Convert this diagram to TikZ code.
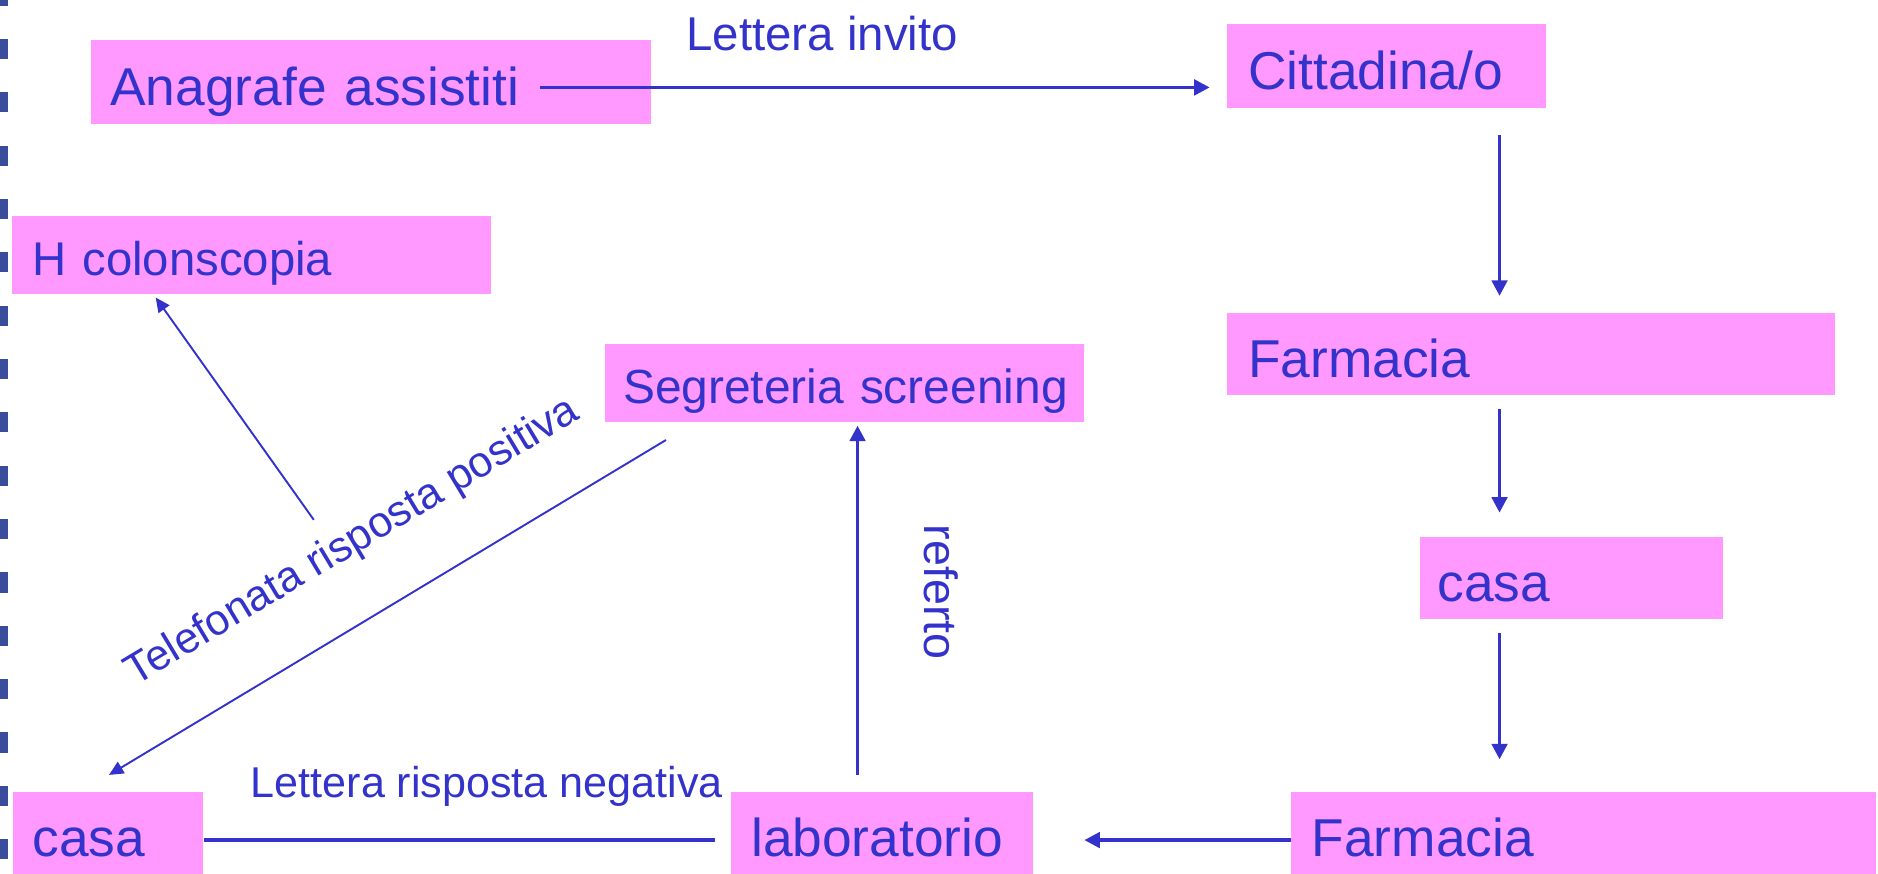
\documentclass[tikz,border=0pt]{standalone}
\usepackage{fontspec}
\setmainfont{Liberation Sans}
\usetikzlibrary{arrows.meta,calc}
\definecolor{boxpink}{HTML}{FF99FF}
\definecolor{txtblue}{HTML}{3333CC}
\definecolor{sqblue}{HTML}{3A4C9C}
\newcommand{\bigf}{\fontsize{44.5pt}{50pt}\selectfont}
\newcommand{\midf}{\fontsize{40pt}{46pt}\selectfont}
\newcommand{\labf}{\fontsize{38pt}{44pt}\selectfont}
\begin{document}
\begin{tikzpicture}[x=1pt,y=-1pt,
  box/.style={fill=boxpink, anchor=north west, inner ysep=0pt, align=left,
    text=txtblue, text depth=0pt},
  bigbox/.style={box, font=\bigf, text height=39.2pt},
  midbox/.style={box, font=\midf, text height=35.2pt},
  lab/.style={text=txtblue, font=\labf, inner sep=0pt},
  arr/.style={draw=txtblue, line width=2.8pt, -{Triangle[length=13pt,width=13pt]}},
  plain/.style={draw=txtblue, line width=2.8pt},
  thinarr/.style={draw=txtblue, line width=1.6pt, -{Triangle[length=12pt,width=11pt]}}
]
\useasboundingbox (0,0) rectangle (1568,729.7);
\fill[white] (0,0) rectangle (1568,729.7);
% left-edge markers
\foreach \k in {-1,...,15}{
  \fill[sqblue] (-4,{40.9+44.54*\k-8.4}) rectangle (6.7,{40.9+44.54*\k+8.4});
}
% boxes
\node[bigbox, minimum width=467pt, minimum height=70pt, text width=435pt, inner xsep=16pt] (anag) at (76,33) {\mbox{Anagrafe assistiti}};
\node[bigbox, minimum width=267pt, minimum height=70pt, text width=231pt, inner xsep=18pt] (citt) at (1024,20) {\mbox{Cittadina/o}};
\node[midbox, minimum width=400pt, minimum height=65pt, text width=366pt, inner xsep=17pt, font=\fontsize{39.5pt}{45pt}\selectfont] (hcol) at (10,180) {\mbox{H colonscopia}};
\node[midbox, minimum width=400pt, minimum height=65pt, text width=370pt, inner xsep=15pt] (segr) at (505,287) {\mbox{Segreteria screening}};
\node[bigbox, minimum width=508pt, minimum height=69pt, text width=472pt, inner xsep=18pt] (farmA) at (1024,261) {\mbox{Farmacia}};
\node[bigbox, minimum width=253pt, minimum height=69pt, text width=223pt, inner xsep=15pt] (casaA) at (1185,448) {\mbox{casa}};
\node[bigbox, minimum width=158pt, minimum height=69pt, text width=126pt, inner xsep=16pt] (casaB) at (11,661) {\mbox{casa}};
\node[bigbox, minimum width=252pt, minimum height=69pt, text width=218pt, inner xsep=17pt] (labo) at (610,661) {\mbox{laboratorio}};
\node[bigbox, minimum width=488pt, minimum height=69pt, text width=454pt, inner xsep=17pt] (farmB) at (1078,661) {\mbox{Farmacia}};
% labels
\node[lab, anchor=base, font=\fontsize{39.6pt}{45pt}\selectfont] (linv) at (686.5,42) {Lettera invito};
\node[lab, anchor=base, font=\fontsize{36pt}{42pt}\selectfont] (lneg) at (406.5,666) {Lettera risposta negativa};
\node[lab, anchor=base west, rotate=-90, font=\fontsize{39pt}{45pt}\selectfont] (lref) at (772,438) {referto};
\node[lab, anchor=base, rotate=31, font=\fontsize{36pt}{42pt}\selectfont] (ltel) at (299.5,461) {Telefonata risposta positiva};
\coordinate (telstart) at (262,434);
% connectors
\draw[arr] ($(anag.north west)+(375,40)$) -- ($(citt.north west)+(-14,53)$);
\draw[arr] ($(citt.north west)+(228,93)$) -- ($(farmA.north west)+(228,-14)$);
\draw[arr] ($(farmA.south west)+(228,11)$) -- ($(casaA.north west)+(67,-20)$);
\draw[arr] ($(casaA.south west)+(67,11)$) -- ($(farmB.north west)+(174,-27)$);
\draw[arr] ($(farmB.south west)+(0,-29)$) -- ($(labo.south east)+(43,-29)$);
\draw[plain] ($(labo.south west)+(-13,-29)$) -- ($(casaB.south east)+(1,-29)$);
\draw[arr] ($(labo.north west)+(106,-14)$) -- ($(segr.south west)+(211,3)$);
\draw[thinarr] ($(segr.south west)+(51,15)$) -- ($(casaB.north west)+(80,-14)$);
\draw[thinarr] (telstart) -- ($(hcol.south west)+(120,3)$);
\end{tikzpicture}
\end{document}
